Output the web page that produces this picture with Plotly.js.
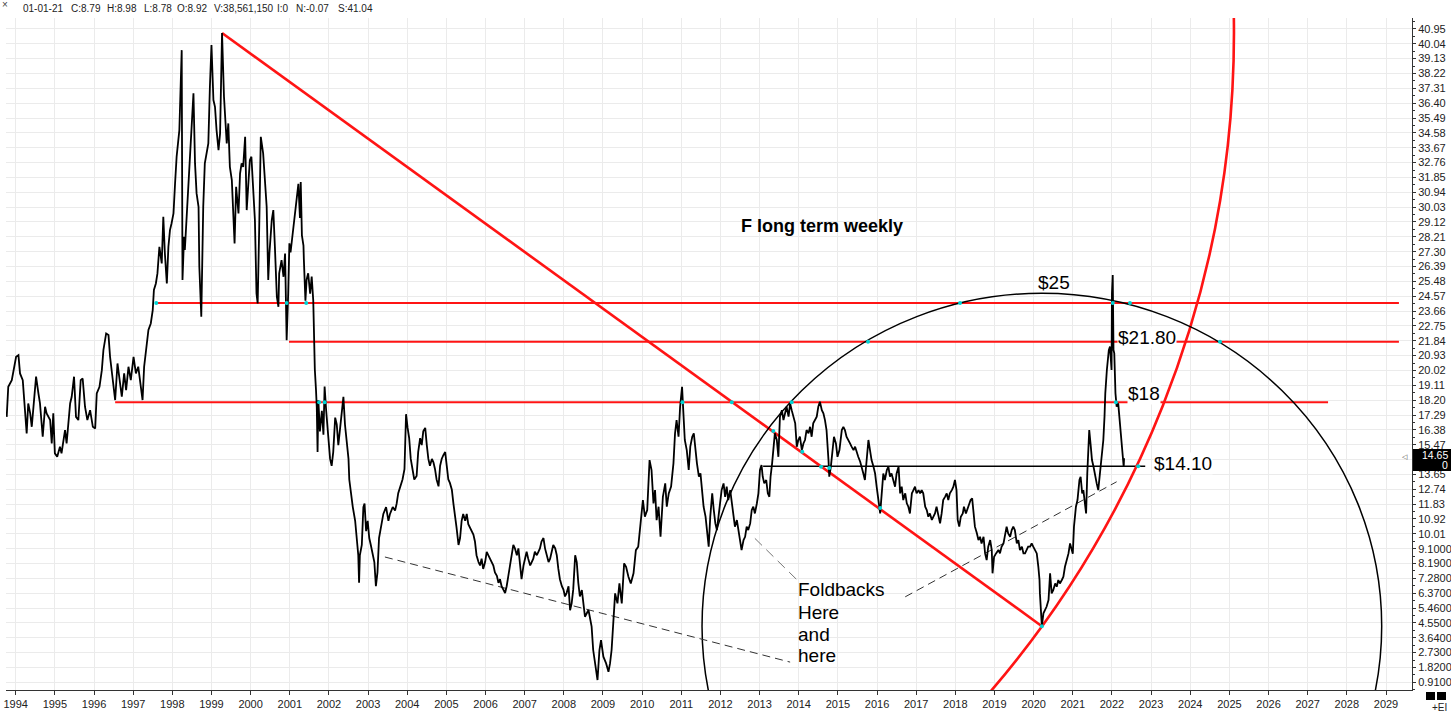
<!DOCTYPE html>
<html>
<head>
<meta charset="utf-8">
<script src="https://cdn.plot.ly/plotly-3.0.1.min.js"></script>
<style>html,body{margin:0;padding:0;background:#fff;}#chart{width:1451px;height:717px;}</style>
</head>
<body>
<div id="chart"></div>
<script>
// ---------- DATA ----------
const weeks = [
1993.77,1993.81,1993.90,1994.01,1994.07,1994.11,1994.18,1994.24,1994.28,1994.32,1994.37,1994.41,1994.45,1994.52,1994.58,1994.62,1994.69,1994.75,1994.79,1994.88,1994.92,1994.96,
1995.00,1995.06,1995.13,1995.17,1995.26,1995.30,1995.39,1995.43,1995.49,1995.54,1995.60,1995.66,1995.71,1995.77,1995.83,1995.90,1995.97,
1996.03,1996.07,1996.14,1996.20,1996.24,1996.31,1996.37,1996.41,1996.48,1996.54,1996.60,1996.65,1996.71,1996.77,1996.82,1996.88,1996.94,
1997.01,1997.07,1997.13,1997.18,1997.24,1997.28,1997.33,1997.39,1997.45,1997.50,1997.53,1997.58,1997.62,1997.67,1997.73,1997.77,1997.81,1997.86,1997.90,1997.94,1997.98,
1998.03,1998.07,1998.11,1998.18,1998.24,1998.26,1998.30,1998.32,1998.36,1998.41,1998.45,1998.50,1998.54,1998.58,1998.62,1998.67,1998.69,1998.74,1998.76,1998.79,1998.83,1998.88,1998.92,1998.96,
1999.00,1999.05,1999.09,1999.13,1999.18,1999.22,1999.25,1999.27,1999.32,1999.35,1999.39,1999.43,1999.47,1999.52,1999.56,1999.59,1999.63,1999.69,1999.73,1999.77,1999.81,1999.86,1999.90,1999.94,1999.98,
2000.02,2000.07,2000.11,2000.15,2000.18,2000.22,2000.26,2000.32,2000.37,2000.41,2000.45,2000.48,2000.54,2000.58,2000.62,2000.67,2000.71,2000.73,2000.79,2000.84,2000.88,2000.92,2000.96,2000.99,
2001.02,2001.07,2001.13,2001.18,2001.22,2001.26,2001.28,2001.31,2001.35,2001.36,2001.40,2001.43,2001.47,2001.52,2001.56,2001.60,2001.62,2001.64,2001.67,2001.69,2001.71,2001.73,2001.77,2001.82,2001.86,2001.89,2001.93,2001.96,
2002.00,2002.03,2002.07,2002.11,2002.16,2002.20,2002.24,2002.28,2002.33,2002.37,2002.41,2002.45,2002.50,2002.52,2002.56,2002.61,2002.67,2002.71,2002.75,2002.77,2002.79,2002.84,2002.88,2002.91,2002.95,2002.99,
2003.03,2003.07,2003.12,2003.16,2003.20,2003.24,2003.28,2003.32,2003.39,2003.46,2003.52,2003.56,2003.63,2003.69,2003.73,2003.77,2003.83,2003.88,2003.93,2003.97,
2004.01,2004.05,2004.09,2004.14,2004.18,2004.24,2004.28,2004.33,2004.37,2004.41,2004.46,2004.50,2004.54,2004.58,2004.63,2004.67,2004.71,2004.75,2004.80,2004.84,2004.88,2004.92,2004.97,
2005.01,2005.05,2005.09,2005.14,2005.18,2005.22,2005.26,2005.31,2005.35,2005.39,2005.43,2005.48,2005.52,2005.56,2005.60,2005.65,2005.69,2005.73,2005.77,2005.82,2005.86,2005.90,2005.94,2005.99,
2006.03,2006.07,2006.12,2006.16,2006.20,2006.24,2006.29,2006.33,2006.37,2006.41,2006.46,2006.50,2006.54,2006.58,2006.63,2006.67,2006.71,2006.75,2006.80,2006.84,2006.88,2006.92,2006.97,
2007.01,2007.05,2007.09,2007.14,2007.18,2007.22,2007.26,2007.31,2007.35,2007.39,2007.43,2007.48,2007.52,2007.56,2007.61,2007.65,2007.69,2007.73,2007.78,2007.82,2007.86,2007.90,2007.95,2007.99,
2008.03,2008.07,2008.12,2008.16,2008.20,2008.24,2008.29,2008.33,2008.37,2008.41,2008.46,2008.54,2008.63,2008.71,2008.75,2008.80,2008.86,2008.91,2008.95,
2009.01,2009.08,2009.14,2009.18,2009.22,2009.27,2009.31,2009.37,2009.42,2009.48,2009.54,2009.59,2009.65,2009.71,2009.78,2009.84,2009.90,2009.96,
2010.02,2010.07,2010.13,2010.19,2010.24,2010.29,2010.33,2010.37,2010.42,2010.47,2010.53,2010.59,2010.63,2010.68,2010.74,2010.80,2010.84,2010.88,2010.93,2010.97,
2011.02,2011.05,2011.09,2011.14,2011.19,2011.23,2011.28,2011.32,2011.36,2011.40,2011.45,2011.49,2011.53,2011.57,2011.62,2011.66,2011.70,2011.74,2011.79,2011.83,2011.87,2011.91,2011.97,
2012.03,2012.08,2012.12,2012.16,2012.20,2012.25,2012.29,2012.33,2012.37,2012.42,2012.46,2012.50,2012.54,2012.59,2012.63,2012.67,2012.71,2012.76,2012.80,2012.84,2012.88,2012.93,2012.97,
2013.01,2013.05,2013.08,2013.12,2013.17,2013.21,2013.25,2013.28,2013.32,2013.35,2013.39,2013.44,2013.48,2013.52,2013.57,2013.61,2013.65,2013.69,2013.74,2013.78,2013.82,2013.86,2013.91,2013.95,2013.99,
2014.03,2014.08,2014.12,2014.16,2014.20,2014.25,2014.29,2014.33,2014.37,2014.42,2014.46,2014.50,2014.54,2014.59,2014.63,2014.67,2014.71,2014.76,2014.78,2014.82,2014.87,2014.90,2014.95,2014.99,
2015.04,2015.10,2015.14,2015.18,2015.22,2015.27,2015.31,2015.35,2015.40,2015.44,2015.48,2015.52,2015.57,2015.61,2015.65,2015.69,2015.74,2015.78,2015.82,2015.86,2015.91,2015.95,2015.99,
2016.03,2016.08,2016.12,2016.16,2016.20,2016.25,2016.29,2016.33,2016.37,2016.42,2016.46,2016.50,2016.55,2016.59,2016.63,2016.67,2016.72,2016.76,2016.80,2016.84,2016.89,2016.93,2016.97,
2017.01,2017.06,2017.10,2017.14,2017.18,2017.23,2017.27,2017.31,2017.35,2017.40,2017.44,2017.48,2017.52,2017.57,2017.61,2017.65,2017.69,2017.74,2017.78,2017.82,2017.86,2017.91,2017.95,2017.99,
2018.03,2018.06,2018.10,2018.14,2018.19,2018.22,2018.27,2018.33,2018.39,2018.43,2018.46,2018.50,2018.55,2018.59,2018.63,2018.67,2018.72,2018.76,2018.80,2018.84,2018.89,2018.93,2018.95,2018.99,
2019.04,2019.10,2019.14,2019.18,2019.23,2019.27,2019.31,2019.35,2019.40,2019.44,2019.48,2019.52,2019.57,2019.61,2019.65,2019.70,2019.74,2019.78,2019.82,2019.86,2019.91,2019.95,2019.99,
2020.04,2020.08,2020.12,2020.15,2020.16,2020.19,2020.21,2020.25,2020.29,2020.33,2020.38,2020.42,2020.46,2020.50,2020.55,2020.59,2020.63,2020.67,2020.72,2020.76,2020.80,2020.84,2020.89,2020.93,2020.97,2021.00,
2021.03,2021.06,2021.08,2021.12,2021.14,2021.17,2021.20,2021.24,2021.27,2021.31,2021.34,2021.37,2021.40,2021.42,2021.46,2021.49,2021.53,2021.57,2021.61,2021.65,2021.68,2021.71,2021.75,2021.78,2021.81,2021.83,2021.87,2021.89,2021.92,2021.95,2021.99,
2022.00,2022.02,2022.04,2022.06,2022.09,2022.12,2022.16,2022.19,2022.22,2022.25,2022.28,2022.30,2022.31
];
const closes = [
17.18,19.02,19.43,20.86,20.96,19.84,19.43,17.18,16.16,18.00,17.39,16.57,17.59,19.64,18.61,18.00,15.96,17.80,17.39,16.98,15.55,17.39,
14.94,14.73,15.35,14.94,16.37,15.55,18.00,18.41,19.64,17.18,16.98,19.43,19.53,17.80,16.98,17.59,16.57,
16.47,18.61,19.02,20.04,21.27,22.29,22.19,20.86,19.43,18.21,20.45,19.64,18.41,19.84,18.82,20.25,19.43,
20.86,19.84,20.25,19.23,18.21,20.25,21.47,22.50,22.90,23.72,24.95,25.35,25.97,27.60,26.58,29.44,27.19,25.35,27.60,28.62,29.03,
29.64,31.48,33.12,34.75,39.65,25.56,28.21,27.40,29.23,31.28,33.73,35.57,37.00,32.71,30.87,30.05,26.38,23.31,27.40,30.05,32.71,33.52,33.93,37.40,
39.96,36.59,36.18,34.75,33.52,34.55,37.81,40.70,36.79,35.77,33.93,35.16,32.50,31.69,28.83,27.81,31.28,29.64,32.09,32.71,32.50,34.34,29.85,31.28,32.91,
33.12,30.87,29.23,24.74,24.13,28.83,34.34,33.32,31.28,30.05,25.56,27.19,29.23,29.85,27.60,24.54,23.92,25.97,26.78,25.76,27.19,21.88,24.74,27.81,
27.25,28.30,29.36,30.62,31.46,29.36,31.57,28.30,27.67,26.83,24.30,25.58,25.98,24.72,25.77,24.30,21.77,20.08,18.82,17.76,15.02,18.19,16.29,17.55,16.08,19.03,17.55,16.71,
15.45,14.60,14.18,15.02,17.13,16.71,15.45,16.50,17.55,18.40,16.71,15.66,14.60,13.34,12.50,11.65,10.81,9.75,8.70,7.01,8.70,9.33,11.65,11.86,10.17,10.81,
9.75,9.33,8.70,8.28,6.80,7.65,9.75,10.39,11.23,11.65,10.81,11.23,11.65,11.44,11.86,12.50,12.92,13.34,13.97,17.34,
16.50,15.87,14.60,13.76,13.34,13.55,15.02,15.87,15.45,16.29,16.50,15.45,14.60,14.18,14.60,14.39,13.97,13.34,12.92,14.18,14.60,14.81,15.02,
14.18,13.34,13.13,12.71,11.86,11.23,10.39,9.33,9.75,10.81,11.23,10.81,11.23,10.60,10.39,10.17,9.96,9.54,8.70,8.28,8.07,8.49,7.86,8.28,
8.91,8.70,8.49,8.28,8.07,7.65,7.44,7.01,7.23,6.80,6.59,6.38,6.80,7.44,8.28,8.91,9.33,9.12,8.70,9.12,8.28,7.23,8.07,
8.49,8.91,8.49,8.07,8.28,8.49,8.91,8.70,8.91,9.12,9.54,9.75,9.12,8.70,8.28,8.49,8.91,9.33,9.12,8.70,7.86,7.23,6.80,6.59,
6.17,6.38,6.80,5.33,5.75,6.59,8.70,8.28,7.01,6.17,6.56,4.93,5.34,4.32,2.89,2.07,1.05,2.89,3.50,
2.48,2.07,1.56,2.07,2.89,4.93,6.36,5.75,6.97,5.75,8.20,7.99,7.38,6.97,7.59,9.01,9.22,10.65,
12.08,11.06,11.47,14.53,13.92,11.87,12.69,10.85,11.67,9.83,12.28,13.10,11.67,12.49,12.90,14.33,16.16,16.98,15.96,17.80,
19.02,17.59,15.76,15.14,13.92,15.35,15.96,16.17,15.14,14.33,13.51,13.71,12.69,11.67,11.06,10.04,9.22,11.06,12.49,11.47,10.65,10.24,11.47,
12.69,13.10,12.28,12.90,12.08,12.69,11.87,11.06,10.45,10.85,10.24,9.42,9.01,9.63,9.83,10.45,10.24,10.65,11.47,11.67,11.26,11.87,12.49,
13.92,14.22,13.51,13.10,13.31,12.49,12.28,13.51,14.33,15.14,16.17,15.76,14.73,17.19,17.59,16.98,17.39,17.80,17.19,18.00,17.59,17.19,16.78,15.35,15.76,
15.96,15.14,15.55,15.76,16.37,16.17,16.57,15.96,16.78,16.98,17.19,17.80,18.11,17.59,17.39,16.98,16.37,14.53,13.51,14.12,15.35,15.96,15.55,14.73,
15.14,16.37,16.57,16.37,15.96,15.76,15.55,15.35,15.14,15.35,14.94,14.73,14.43,14.12,13.71,13.31,14.53,15.76,15.14,14.53,14.12,13.71,12.90,
12.08,11.26,12.49,13.71,13.31,13.92,14.12,13.51,13.71,13.31,12.90,13.71,14.12,12.49,12.90,12.08,12.49,11.88,11.67,11.26,12.49,12.69,12.90,
12.49,12.69,12.49,12.69,12.49,11.67,11.47,11.06,11.26,10.86,11.06,11.26,11.67,11.06,10.65,11.26,12.08,12.29,12.49,12.08,12.49,12.69,12.90,13.31,
12.69,10.86,10.45,11.06,11.26,11.67,11.26,11.67,12.08,12.18,11.26,10.45,10.04,9.63,9.83,9.42,9.83,8.81,8.40,9.22,9.63,9.02,7.59,8.61,
8.81,9.02,8.81,9.22,9.42,10.04,10.45,10.04,9.83,10.24,10.45,10.24,9.42,9.63,9.02,9.22,8.81,8.81,9.02,9.22,9.22,9.42,9.22,
9.02,8.81,7.99,7.18,6.36,5.34,4.35,5.14,5.34,5.54,5.95,7.59,6.36,6.56,6.97,6.77,7.18,6.97,7.18,7.38,7.99,8.40,8.81,9.42,9.02,8.79,
10.45,11.26,11.67,12.08,12.49,13.31,13.51,12.49,12.69,11.67,11.26,13.71,16.17,16.37,15.35,14.53,14.12,13.71,13.10,12.69,13.51,13.92,14.94,15.76,17.19,18.62,20.05,20.66,21.27,21.48,20.05,
24.74,25.87,21.27,21.07,18.62,17.80,18.00,17.19,16.57,15.76,14.94,14.12,14.65
];

// price axis ticks and year ticks (14.56 sits under the last-price tag in the reference)
const yTickVals = [0.91,1.82,2.73,3.64,4.55,5.46,6.37,7.28,8.19,9.10,10.01,10.92,11.83,12.74,13.65,14.56,15.47,16.38,17.29,18.20,19.11,20.02,20.93,21.84,22.75,23.66,24.57,25.48,26.39,27.30,28.21,29.12,30.03,30.94,31.85,32.76,33.67,34.58,35.49,36.40,37.31,38.22,39.13,40.04,40.95];
const yTickText = ['0.9100','1.8200','2.7300','3.6400','4.5500','5.4600','6.3700','7.2800','8.1900','9.1000','10.01','10.92','11.83','12.74','13.65','','15.47','16.38','17.29','18.20','19.11','20.02','20.93','21.84','22.75','23.66','24.57','25.48','26.39','27.30','28.21','29.12','30.03','30.94','31.85','32.76','33.67','34.58','35.49','36.40','37.31','38.22','39.13','40.04','40.95'];
const xTickVals = [1994,1995,1996,1997,1998,1999,2000,2001,2002,2003,2004,2005,2006,2007,2008,2009,2010,2011,2012,2013,2014,2015,2016,2017,2018,2019,2020,2021,2022,2023,2024,2025,2026,2027,2028,2029];
const xTickText = ['1994','1995','1996','1997','1998','1999','2000','2001','2002','2003','2004','2005','2006','2007','2008','2009','2010','2011','2012','2013','2014','2015','2016','2017','2018','2019','2020','2021','2022','2023','2024','2025','2026','2027','2028','2029'];

// drawn study lines
const levelPrices = [24.15, 21.78, 18.08];
const levelStarts = [1997.61, 2000.98, 1996.54];
const levelEnds   = [2029.33, 2029.33, 2027.52];
const supportLevel = [14.15];
const supportSpan  = [2013.09, 2022.85];
const peakPoint = [1999.27, 40.70];
const lowPoint  = [2020.21, 4.35];
const dashStartX = [2003.43, 2012.88, 2016.72];
const dashStartY = [8.59, 9.73, 6.15];
const dashEndX   = [2013.78, 2013.96, 2022.12];
const dashEndY   = [2.15, 7.18, 13.20];
const circleTopPrice = 24.75;      // "$25" circle around the 2020 low
const circleHalfWidthYears = 8.68;
const touchX = [1997.59, 2000.92, 2001.42, 2001.75, 2001.89, 2011.03, 2012.29, 2013.35, 2013.82, 2014.09, 2014.57, 2014.78, 2015.77, 2016.08, 2018.12, 2020.21, 2022.02, 2022.10, 2022.46, 2022.67, 2024.76];
const touchY = [24.15, 24.15, 24.15, 18.08, 18.08, 18.08, 18.08, 16.31, 18.08, 15.04, 14.12, 14.04, 21.78, 11.59, 24.15, 4.35, 24.15, 18.08, 24.15, 14.15, 21.78];

const header = ['01-01-21','C:8.79','H:8.98','L:8.78','O:8.92','V:38,561,150','I:0','N:-0.07','S:41.04'];
const lastPrice = '14.65';

// ---------- LAYOUT GEOMETRY ----------
const W = 1451, H = 717;
const M = {l: 6, r: 39, t: 18, b: 27};
const xRange = [1993.752, 2029.664];
const yRange = [0.44, 41.62];
const plotW = W - M.l - M.r, plotH = H - M.t - M.b;
const pxPerYear = plotW / (xRange[1] - xRange[0]);
const pxPerDollar = plotH / (yRange[1] - yRange[0]);
const PX = px => (px - M.l) / plotW;          // page pixel -> paper x
const PY = py => (H - M.b - py) / plotH;      // page pixel -> paper y

const FONT = 'Liberation Sans, Arial, Helvetica, sans-serif';
const RED = '#ff1414';

const shapes = [];
levelPrices.forEach((p, i) => shapes.push({type: 'line', xref: 'x', yref: 'y', layer: 'between',
  x0: levelStarts[i], x1: levelEnds[i], y0: p, y1: p, line: {color: RED, width: 2}}));
shapes.push({type: 'line', xref: 'x', yref: 'y', layer: 'between', x0: supportSpan[0], x1: supportSpan[1],
  y0: supportLevel[0], y1: supportLevel[0], line: {color: '#000', width: 1.5}});
shapes.push({type: 'line', xref: 'x', yref: 'y', layer: 'between', x0: peakPoint[0], y0: peakPoint[1],
  x1: lowPoint[0], y1: lowPoint[1], line: {color: RED, width: 2.6}});
// red arc: circle (on screen) centred at the peak, passing through the 2020 low
const rPix = Math.hypot((lowPoint[0] - peakPoint[0]) * pxPerYear, (lowPoint[1] - peakPoint[1]) * pxPerDollar);
const rxA = rPix / pxPerYear, ryA = rPix / pxPerDollar;
shapes.push({type: 'circle', xref: 'x', yref: 'y', layer: 'between', x0: peakPoint[0] - rxA, x1: peakPoint[0] + rxA,
  y0: peakPoint[1] - ryA, y1: peakPoint[1] + ryA, line: {color: RED, width: 2.6}, fillcolor: 'rgba(0,0,0,0)'});
// black circle around the 2020 low
const ryB = circleTopPrice - lowPoint[1];
shapes.push({type: 'circle', xref: 'x', yref: 'y', layer: 'between', x0: lowPoint[0] - circleHalfWidthYears, x1: lowPoint[0] + circleHalfWidthYears,
  y0: lowPoint[1] - ryB, y1: lowPoint[1] + ryB, line: {color: '#000', width: 1.5}, fillcolor: 'rgba(0,0,0,0)'});
dashStartX.forEach((x, i) => shapes.push({type: 'line', xref: 'x', yref: 'y', layer: 'between',
  x0: x, y0: dashStartY[i], x1: dashEndX[i], y1: dashEndY[i],
  line: {color: i === 1 ? '#777' : '#333', width: 1, dash: i === 1 ? '10px,6px' : '8px,5px'}}));
// last price tag + corner boxes
shapes.push({type: 'rect', xref: 'paper', yref: 'paper', layer: 'above', x0: PX(1413), x1: PX(1451), y0: PY(471), y1: PY(449),
  fillcolor: '#000', line: {width: 0}});
shapes.push({type: 'rect', xref: 'paper', yref: 'paper', layer: 'above', x0: PX(1426), x1: PX(1435), y0: PY(700), y1: PY(692),
  fillcolor: '#000', line: {width: 0}});
shapes.push({type: 'rect', xref: 'paper', yref: 'paper', layer: 'above', x0: PX(1437), x1: PX(1446), y0: PY(700), y1: PY(692),
  fillcolor: '#000', line: {width: 0}});

const ann = [];
const headerX = [22, 70, 106, 143, 176, 213, 276, 295, 337];
header.forEach((t, i) => ann.push({text: t, xref: 'paper', yref: 'paper', x: PX(headerX[i]), y: PY(8),
  xanchor: 'left', yanchor: 'middle', showarrow: false, borderpad: 0, font: {family: FONT, size: 10, color: '#222'}}));
ann.push({text: '×', xref: 'paper', yref: 'paper', x: PX(5), y: PY(5), xanchor: 'center', yanchor: 'middle',
  showarrow: false, font: {family: FONT, size: 10, color: '#444'}});
function txt(t, x, y, opts) {
  return Object.assign({text: t, x: x, y: y, xref: 'x', yref: 'y', xanchor: 'left', yanchor: 'middle', showarrow: false,
    borderpad: 0, font: {family: FONT, size: 19, color: '#000'}}, opts || {});
}
ann.push(txt('<b>F long term weekly</b>', 2012.50, 28.87, {font: {family: FONT, size: 18, color: '#000'}}));
ann.push(txt('$25', 2020.09, 25.40));
ann.push(txt('$21.80', 2022.13, 22.07, {bgcolor: '#fff'}));
ann.push(txt('$18', 2022.38, 18.64, {bgcolor: '#fff'}));
ann.push(txt('$14.10', 2023.05, 14.29, {bgcolor: '#fff'}));
['Foldbacks', 'Here', 'and', 'here'].forEach((t, i) => ann.push(txt(t, 2013.96, [6.57, 5.22, 3.87, 2.53][i])));
ann.push({text: lastPrice, xref: 'paper', yref: 'paper', x: PX(1449), y: PY(455), xanchor: 'right', yanchor: 'middle',
  showarrow: false, borderpad: 0, font: {family: FONT, size: 10.5, color: '#fff'}});
ann.push({text: '0', xref: 'paper', yref: 'paper', x: PX(1449), y: PY(465), xanchor: 'right', yanchor: 'middle',
  showarrow: false, borderpad: 0, font: {family: FONT, size: 10.5, color: '#fff'}});
ann.push({text: '◁', xref: 'paper', yref: 'paper', x: PX(1405), y: PY(457), xanchor: 'center', yanchor: 'middle',
  showarrow: false, borderpad: 0, font: {family: 'DejaVu Sans', size: 7, color: '#444'}});
ann.push({text: '+EI', xref: 'paper', yref: 'paper', x: PX(1439), y: PY(708), xanchor: 'center', yanchor: 'middle',
  showarrow: false, borderpad: 0, font: {family: FONT, size: 10, color: '#222'}});

const traces = [
  {type: 'scatter', mode: 'lines', x: weeks, y: closes, line: {color: '#000', width: 1.8}, hoverinfo: 'skip'},
  {type: 'scatter', mode: 'markers', x: touchX, y: touchY, marker: {color: '#00d4d4', size: 4}, hoverinfo: 'skip'}
];

const layout = {
  width: W, height: H, margin: M, showlegend: false,
  paper_bgcolor: '#fff', plot_bgcolor: '#fff',
  font: {family: FONT, size: 11, color: '#222'},
  xaxis: {range: xRange, tickmode: 'array', tickvals: xTickVals, ticktext: xTickText, showgrid: true, gridcolor: '#ebebeb',
    zeroline: false, showline: true, linecolor: '#333', linewidth: 1, ticks: 'outside', ticklen: 4, tickcolor: '#333',
    tickfont: {family: FONT, size: 11, color: '#222'}},
  yaxis: {range: yRange, side: 'right', tickmode: 'array', tickvals: yTickVals, ticktext: yTickText, showgrid: true,
    gridcolor: '#ebebeb', zeroline: false, showline: true, linecolor: '#333', linewidth: 1, ticks: 'outside', ticklen: 3,
    tickcolor: '#333', tickfont: {family: FONT, size: 11, color: '#222'},
    minor: {tickmode: 'linear', tick0: 0.455, dtick: 0.455, ticklen: 2, tickcolor: '#333', showgrid: false}},
  shapes: shapes, annotations: ann
};

Plotly.newPlot('chart', traces, layout, {displayModeBar: false, staticPlot: true});
</script>
</body>
</html>
